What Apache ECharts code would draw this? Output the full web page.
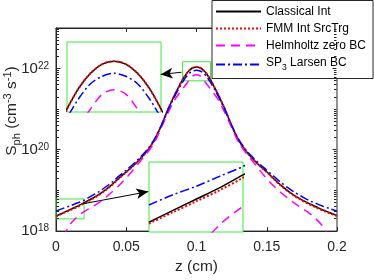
<!DOCTYPE html>
<html><head><meta charset="utf-8">
<script src="https://cdn.jsdelivr.net/npm/echarts@6/dist/echarts.min.js"></script>
<style>html,body{margin:0;padding:0;background:#fff}#c{width:374px;height:280px}</style>
</head><body><div id="c"></div>
<script>
// z positions (cm)
const zVals = [0, 0.005, 0.01, 0.015, 0.02, 0.025, 0.03, 0.035, 0.04, 0.045, 0.05, 0.055, 0.06, 0.065, 0.07, 0.075, 0.08,
  0.0825, 0.085, 0.0875, 0.09, 0.0925, 0.095, 0.0975, 0.1, 0.1025, 0.105, 0.1075, 0.11, 0.1125, 0.115, 0.1175,
  0.12, 0.125, 0.13, 0.135, 0.14, 0.145, 0.15, 0.155, 0.16, 0.165, 0.17, 0.175, 0.18, 0.185, 0.19, 0.195, 0.2];
// S_ph values (cm^-3 s^-1)
const classicalInt = [2.34e18, 2.82e18, 3.39e18, 4.07e18, 5.01e18, 6.17e18, 7.76e18, 1.02e19, 1.41e19, 2.04e19, 2.88e19, 4.07e19, 6.03e19, 9.55e19, 1.74e20, 3.98e20, 1.05e21,
  1.62e21, 2.45e21, 3.63e21, 5.25e21, 7.24e21, 9.12e21, 1.05e22, 1.10e22, 1.05e22, 9.12e21, 7.24e21, 5.25e21, 3.63e21, 2.45e21, 1.62e21,
  1.05e21, 3.98e20, 1.74e20, 9.55e19, 6.03e19, 4.07e19, 2.88e19, 1.95e19, 1.35e19, 9.8e18, 7.4e18, 5.9e18, 4.8e18, 3.98e18, 3.31e18, 2.82e18, 2.40e18];
const fmmIntSrcTrg = [2.29e18, 2.74e18, 3.27e18, 3.91e18, 4.79e18, 5.96e18, 7.53e18, 1.00e19, 1.38e19, 2.00e19, 2.82e19, 4.03e19, 5.96e19, 9.44e19, 1.72e20, 3.98e20, 1.05e21,
  1.62e21, 2.45e21, 3.63e21, 5.25e21, 7.24e21, 9.12e21, 1.05e22, 1.10e22, 1.05e22, 9.12e21, 7.24e21, 5.25e21, 3.63e21, 2.45e21, 1.62e21,
  1.05e21, 3.98e20, 1.72e20, 9.44e19, 5.96e19, 4.03e19, 2.82e19, 1.91e19, 1.32e19, 9.6e18, 7.2e18, 5.7e18, 4.6e18, 3.83e18, 3.2e18, 2.74e18, 2.34e18];
const helmholtzZeroBC = [null, 7.08e17, 1.45e18, 2.24e18, 3.02e18, 3.80e18, 4.90e18, 6.61e18, 9.33e18, 1.35e19, 2.04e19, 3.24e19, 5.25e19, 8.51e19, 1.51e20, 3.55e20, 8.51e20,
  1.26e21, 1.82e21, 2.40e21, 3.16e21, 4.07e21, 5.25e21, 6.61e21, 7.08e21, 6.61e21, 5.25e21, 4.07e21, 3.16e21, 2.40e21, 1.82e21, 1.26e21,
  8.51e20, 3.55e20, 1.51e20, 8.51e19, 5.25e19, 3.16e19, 1.95e19, 1.29e19, 8.9e18, 6.46e18, 4.79e18, 3.63e18, 2.82e18, 2.0e18, 1.29e18, 6.3e17, null];
const sp3LarsenBC = [3.09e18, 3.63e18, 4.17e18, 4.90e18, 5.75e18, 7.24e18, 9.12e18, 1.20e19, 1.62e19, 2.29e19, 3.16e19, 4.47e19, 6.61e19, 1.02e20, 1.82e20, 3.98e20, 1.00e21,
  1.51e21, 2.24e21, 3.24e21, 4.57e21, 6.17e21, 7.76e21, 8.71e21, 9.12e21, 8.71e21, 7.76e21, 6.17e21, 4.57e21, 3.24e21, 2.24e21, 1.51e21,
  1.00e21, 3.98e20, 1.82e20, 1.02e20, 6.61e19, 4.47e19, 3.16e19, 2.24e19, 1.58e19, 1.17e19, 8.9e18, 7.1e18, 5.7e18, 4.8e18, 4.1e18, 3.55e18, 3.09e18];

const seriesNames = ['Classical Int', 'FMM Int SrcTrg', 'Helmholtz zero BC', 'SP3 Larsen BC'];
const xRange = [0, 0.2], xStep = 0.05;
const yRange = [1e18, 1e23];
// zoom windows (data coords)
const inset1Z = [0.09, 0.11], inset1S = [5.01e21, 1.479e22];
const inset2Z = [0, 0.02], inset2S = [2.0e18, 6.17e18];
// arrow annotations (data coords): [from, to]
const arrow1 = [[0.0893, 8.13e21], [0.0745, 7.21e21]];
const arrow2 = [[0.0194, 4.71e18], [0.0657, 9.38e18]];

const FONT = 'Liberation Sans';
const AX = '#262626';
const GREEN = '#3aea3a';
const styles = [
  {color: '#000000', width: 1.5, type: 'solid'},
  {color: '#ff0000', width: 2, type: [2, 2]},
  {color: '#ff00ff', width: 1.5, type: [9, 6]},
  {color: '#0000ff', width: 1.5, type: [9, 3, 2, 3]}
];
const dataSets = [classicalInt, fmmIntSrcTrg, helmholtzZeroBC, sp3LarsenBC];

function makeSeries(idx) {
  return dataSets.map((arr, k) => ({
    type: 'line', name: seriesNames[k],
    xAxisIndex: idx, yAxisIndex: idx,
    data: zVals.map((z, i) => [z, arr[i]]),
    symbol: 'none', showSymbol: false, smooth: 0.3, clip: true,
    lineStyle: {color: styles[k].color, width: styles[k].width, type: styles[k].type, cap: 'butt'},
    itemStyle: {color: styles[k].color},
    z: (idx === 0 ? 3 : 10) + k, silent: true, animation: false
  }));
}

const chart = echarts.init(document.getElementById('c'), null, {renderer: 'canvas'});
const mainSeries = makeSeries(0);
mainSeries[0].markArea = {
  silent: true, label: {show: false},
  itemStyle: {color: 'rgba(0,0,0,0)', borderColor: GREEN, borderWidth: 1},
  data: [[{coord: [inset1Z[0], inset1S[0]]}, {coord: [inset1Z[1], inset1S[1]]}],
         [{coord: [inset2Z[0], inset2S[0]]}, {coord: [inset2Z[1], inset2S[1]]}]]
};
mainSeries[0].markLine = {
  silent: true, label: {show: false}, animation: false,
  lineStyle: {color: '#000', width: 1, type: 'solid'},
  data: [arrow1, arrow2].map(a => [
    {coord: a[0], symbol: 'none'},
    {coord: a[1], symbol: 'arrow', symbolSize: [8, 12]}
  ])
};

const hiddenAxis = {show: false};
const option = {
  animation: false,
  backgroundColor: '#ffffff',
  textStyle: {fontFamily: FONT},
  grid: [
    {left: 56, top: 28, width: 281, height: 210, show: true, borderColor: AX, borderWidth: 1, backgroundColor: '#fff'},
    {left: 67, top: 42, width: 94, height: 70, show: true, borderColor: GREEN, borderWidth: 1, backgroundColor: '#fff', z: 5},
    {left: 149, top: 162, width: 94, height: 70, show: true, borderColor: GREEN, borderWidth: 1, backgroundColor: '#fff', z: 5}
  ],
  xAxis: [
    {type: 'value', gridIndex: 0, min: xRange[0], max: xRange[1], interval: xStep,
     name: 'z (cm)', nameLocation: 'middle', nameGap: 23,
     nameTextStyle: {fontSize: 15.5, color: AX, fontFamily: FONT},
     axisLine: {show: true, lineStyle: {color: AX, width: 1}},
     axisTick: {show: true, inside: true, length: 4, lineStyle: {color: AX}},
     axisLabel: {fontSize: 14, color: AX, margin: 9, fontFamily: FONT},
     splitLine: {show: false}},
    {type: 'value', gridIndex: 1, min: inset1Z[0], max: inset1Z[1], ...hiddenAxis},
    {type: 'value', gridIndex: 2, min: inset2Z[0], max: inset2Z[1], ...hiddenAxis},
    {type: 'value', gridIndex: 0, position: 'top', min: xRange[0], max: xRange[1], interval: xStep,
     axisLine: {show: true, lineStyle: {color: AX, width: 1}},
     axisTick: {show: true, inside: true, length: 4, lineStyle: {color: AX}},
     axisLabel: {show: false}, splitLine: {show: false}}
  ],
  yAxis: [
    {type: 'log', logBase: 10, gridIndex: 0, min: yRange[0], max: yRange[1],
     axisLine: {show: true, lineStyle: {color: AX, width: 1}},
     axisTick: {show: false},
     splitLine: {show: false},
     axisLabel: {
       margin: 7, color: AX, fontFamily: FONT,
       formatter: function (v) {
         const e = Math.round(Math.log10(v));
         return (e % 2 === 0 && e < 23) ? '{b|10}{s|' + e + '}' : '';
       },
       rich: {
         b: {fontSize: 15, lineHeight: 15, verticalAlign: 'bottom', color: AX, fontFamily: FONT},
         s: {fontSize: 10, lineHeight: 10, verticalAlign: 'top', padding: [0, 0, 10, 0], color: AX, fontFamily: FONT}
       }
     }},
    {type: 'log', logBase: 10, gridIndex: 1, min: inset1S[0], max: inset1S[1], ...hiddenAxis},
    {type: 'log', logBase: 10, gridIndex: 2, min: inset2S[0], max: inset2S[1], ...hiddenAxis}
  ],
  legend: {
    data: seriesNames, orient: 'vertical', left: 212, top: 0.5,
    itemWidth: 45, itemHeight: 12.5, itemGap: 5,
    padding: [5, 7, 6, 3],
    borderColor: AX, borderWidth: 1, backgroundColor: '#fff',
    selectedMode: false, z: 20,
    itemStyle: {color: 'rgba(0,0,0,0)', borderColor: 'rgba(0,0,0,0)', borderWidth: 0, opacity: 0},
    textStyle: {fontSize: 12, color: '#000', fontFamily: FONT,
      rich: {
        n: {fontSize: 12, color: '#000', fontFamily: FONT, lineHeight: 16, verticalAlign: 'top'},
        sub: {fontSize: 8.5, color: '#000', fontFamily: FONT, lineHeight: 9, verticalAlign: 'bottom'}
      }},
    formatter: function (name) {
      if (name === 'SP3 Larsen BC') return '{n|SP}{sub|3}{n| Larsen BC}';
      return name;
    }
  },
  series: mainSeries.concat(makeSeries(1), makeSeries(2))
};
chart.setOption(option);

// log minor/major ticks on left and right y axes, and y-axis title
const xL = chart.convertToPixel({xAxisIndex: 0}, xRange[0]);
const xR = chart.convertToPixel({xAxisIndex: 0}, xRange[1]);
const graphics = [];
for (let n = 18; n <= 22; n++) {
  for (let k = 1; k <= 9; k++) {
    const v = k * Math.pow(10, n);
    if (v <= yRange[0] || v >= yRange[1]) continue;
    const py = Math.round(chart.convertToPixel({yAxisIndex: 0}, v) - 0.5) + 0.5;
    const len = (k === 1 && n % 2 === 0) ? 4 : 2.5;
    const l = Math.round(xL) + 0.5, r = Math.round(xR) - 0.5;
    graphics.push({type: 'line', silent: true, z: 50, shape: {x1: l, y1: py, x2: l + len, y2: py}, style: {stroke: AX, lineWidth: 1}});
    graphics.push({type: 'line', silent: true, z: 50, shape: {x1: r - len, y1: py, x2: r, y2: py}, style: {stroke: AX, lineWidth: 1}});
  }
}
graphics.push({
  type: 'text', x: 12, y: 111, rotation: Math.PI / 2, silent: true, z: 50,
  style: {
    text: '{m|S}{sb|ph}{m| (cm}{sp|-3}{m| s}{sp|-1}{m|)}',
    align: 'center', verticalAlign: 'middle',
    rich: {
      m: {fontSize: 15.5, lineHeight: 24, verticalAlign: 'middle', fill: AX, fontFamily: FONT},
      sb: {fontSize: 11, lineHeight: 11, verticalAlign: 'bottom', padding: [0, 0, 2, 0], fill: AX, fontFamily: FONT},
      sp: {fontSize: 11, lineHeight: 11, verticalAlign: 'top', padding: [2, 0, 0, 0], fill: AX, fontFamily: FONT}
    }
  }
});
chart.setOption({graphic: graphics});
</script>
</body></html>
